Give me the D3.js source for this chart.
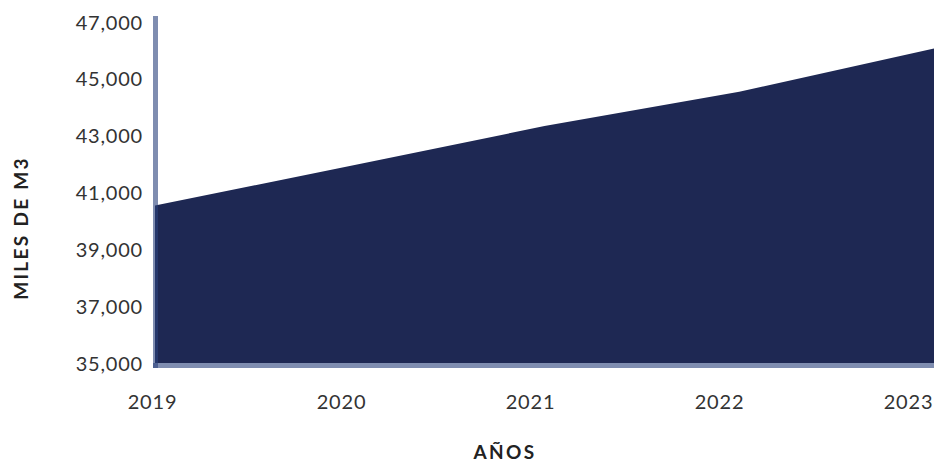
<!DOCTYPE html>
<html>
<head>
<meta charset="utf-8">
<script src="https://cdn.jsdelivr.net/npm/d3@7"></script>
<style>
  html, body { margin: 0; padding: 0; background: #ffffff; overflow: hidden; }
  svg { display: block; }
  .tick text { font-family: Lato, "Open Sans", sans-serif; font-size: 20px; fill: #333333; letter-spacing: 0.8px; }
  .axis-title { font-family: Lato, "Open Sans", sans-serif; font-size: 19px; font-weight: bold; fill: #222222; letter-spacing: 2.3px; }
</style>
</head>
<body>
<script>
// Data
const years = [2019, 2020, 2021, 2022, 2023];
const volumes = [40540, 41933, 43336, 44543, 46071];
const yTicks = [35000, 37000, 39000, 41000, 43000, 45000, 47000];
const xTitle = "AÑOS";
const yTitle = "MILES DE M3";

const W = 934, H = 462;
const svg = d3.select("body").append("svg").attr("width", W).attr("height", H);

const data = years.map((y, i) => ({ year: y, value: volumes[i] }));

// Scales
const xArea = d3.scaleLinear().domain([2019, 2023]).range([155, 934]);
const xLabel = d3.scalePoint().domain(years).range([152, 908]);
const y = d3.scaleLinear().domain([35000, 47000]).range([363, 22]);

// Area
const area = d3.area()
  .x(d => xArea(d.year))
  .y0(y(35000))
  .y1(d => y(d.value));

svg.append("path")
  .datum(data)
  .attr("d", area)
  .attr("fill", "#1e2853");

// Axis lines (semi-transparent, overlap darker at corner)
const axisColor = "#2a417b";
svg.append("line")
  .attr("x1", 155.5).attr("x2", 155.5)
  .attr("y1", 16).attr("y2", 368)
  .attr("stroke", axisColor).attr("stroke-width", 5).attr("stroke-opacity", 0.6);
svg.append("line")
  .attr("x1", 153).attr("x2", W)
  .attr("y1", 365.5).attr("y2", 365.5)
  .attr("stroke", axisColor).attr("stroke-width", 5).attr("stroke-opacity", 0.6);

// Y axis labels
const yAxis = d3.axisLeft(y)
  .tickValues(yTicks)
  .tickSize(0)
  .tickPadding(0)
  .tickFormat(d3.format(","));
svg.append("g")
  .attr("transform", "translate(143,0)")
  .call(yAxis)
  .call(g => g.select(".domain").remove())
  .selectAll("text").attr("dy", "0.35em");

// X axis labels
const xAxis = d3.axisBottom(xLabel)
  .tickSize(0)
  .tickPadding(0)
  .tickFormat(d3.format("d"));
svg.append("g")
  .attr("transform", "translate(0,395)")
  .call(xAxis)
  .call(g => g.select(".domain").remove())
  .selectAll("text").attr("dy", "0.71em");

// Titles
svg.append("text")
  .attr("class", "axis-title")
  .attr("x", 505).attr("y", 459)
  .attr("text-anchor", "middle")
  .text(xTitle);

svg.append("text")
  .attr("class", "axis-title")
  .attr("transform", "translate(28,228) rotate(-90)")
  .attr("text-anchor", "middle")
  .text(yTitle);
</script>
</body>
</html>
